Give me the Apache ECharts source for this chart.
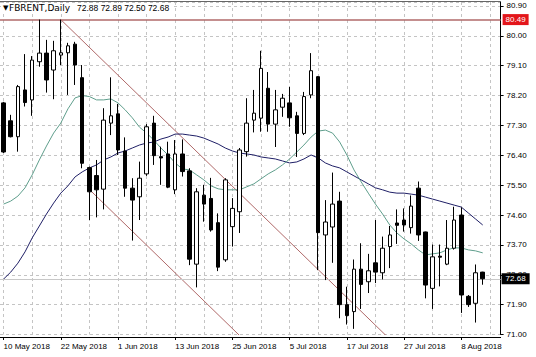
<!DOCTYPE html>
<html>
<head>
<meta charset="utf-8">
<script src="https://cdn.jsdelivr.net/npm/echarts@6/dist/echarts.min.js"></script>
<style>html,body{margin:0;padding:0;background:#fff}#c{width:536px;height:357px}</style>
</head>
<body>
<div id="c"></div>
<script>
const dates = ['10 May 2018','11 May 2018','14 May 2018','15 May 2018','16 May 2018','17 May 2018','18 May 2018','21 May 2018','22 May 2018','23 May 2018','24 May 2018','25 May 2018','28 May 2018','29 May 2018','30 May 2018','31 May 2018',
'1 Jun 2018','4 Jun 2018','5 Jun 2018','6 Jun 2018','7 Jun 2018','8 Jun 2018','11 Jun 2018','12 Jun 2018','13 Jun 2018','14 Jun 2018','15 Jun 2018','18 Jun 2018','19 Jun 2018','20 Jun 2018','21 Jun 2018','22 Jun 2018','25 Jun 2018','26 Jun 2018','27 Jun 2018','28 Jun 2018','29 Jun 2018',
'2 Jul 2018','3 Jul 2018','4 Jul 2018','5 Jul 2018','6 Jul 2018','9 Jul 2018','10 Jul 2018','11 Jul 2018','12 Jul 2018','13 Jul 2018','16 Jul 2018','17 Jul 2018','18 Jul 2018','19 Jul 2018','20 Jul 2018','23 Jul 2018','24 Jul 2018','25 Jul 2018','26 Jul 2018','27 Jul 2018','30 Jul 2018','31 Jul 2018',
'1 Aug 2018','2 Aug 2018','3 Aug 2018','6 Aug 2018','7 Aug 2018','8 Aug 2018','9 Aug 2018','10 Aug 2018','13 Aug 2018'];

const openP = [77.98,77.44,76.96,78.37,78.07,79.22,79.48,78.97,79.42,79.49,79.75,78.74,76.03,75.79,75.38,77.37,
77.65,76.53,75.41,75.15,75.84,77.37,76.36,76.44,75.36,76.44,75.93,73.12,75.20,75.10,74.37,73.25,74.25,74.70,76.51,77.46,77.52,
78.42,77.34,77.85,77.98,77.59,77.06,78.22,78.77,74.00,74.24,75.02,71.90,71.69,72.97,72.59,73.16,72.86,73.65,74.36,74.45,74.22,75.41,
74.09,72.39,73.36,73.12,73.60,74.60,72.15,71.94,72.88];
const highP = [78.01,77.62,78.52,79.45,79.39,80.49,79.88,79.85,80.49,79.79,79.82,79.12,76.06,76.26,77.82,78.75,
77.95,76.94,75.71,76.21,77.34,77.59,76.66,76.81,76.86,76.88,76.01,75.41,75.51,75.72,74.65,75.71,75.11,76.62,78.12,78.37,79.55,
78.91,78.37,78.25,78.46,77.71,78.31,79.48,78.79,75.05,75.88,75.30,72.44,73.26,73.75,73.43,74.45,73.95,74.27,74.77,74.80,75.19,75.61,
74.10,73.71,73.71,74.45,74.85,74.83,72.19,73.11,72.89];
const lowP = [76.47,76.94,76.51,77.87,77.59,79.07,78.29,78.09,79.12,78.22,78.52,76.01,74.45,74.53,74.77,77.01,
76.41,75.15,73.83,74.45,75.78,76.11,75.51,75.41,75.23,75.76,73.09,72.42,74.40,74.10,72.91,73.19,73.65,74.06,76.36,77.09,77.11,
77.11,76.65,77.56,77.26,76.35,77.01,78.12,72.94,72.64,73.16,71.49,71.30,71.17,71.77,72.25,72.55,72.66,73.00,73.73,74.10,74.04,73.82,
72.09,71.77,72.45,73.09,73.56,71.65,71.83,71.36,72.50];
const closeP = [76.50,76.96,78.47,77.99,79.27,79.48,78.67,79.55,79.49,79.70,79.12,76.16,75.30,75.36,77.46,77.59,
76.56,75.41,75.05,75.71,77.26,76.39,76.32,75.44,76.44,75.91,73.27,75.30,74.93,74.15,73.03,75.66,74.80,76.56,77.37,77.67,79.02,
77.34,77.77,78.12,77.53,77.06,78.17,78.95,74.07,74.39,74.93,71.90,71.57,72.97,72.51,72.92,72.88,73.60,74.00,74.29,74.30,74.87,74.00,
72.49,73.34,73.33,73.60,74.45,72.19,71.90,72.86,72.68];

const maFast = [74.93,75.02,75.17,75.42,75.81,76.26,76.68,77.07,77.37,77.80,78.13,78.20,78.17,78.07,78.07,78.10,
77.98,77.77,77.53,77.25,77.07,76.86,76.62,76.41,76.17,75.99,75.96,75.81,75.66,75.48,75.39,75.36,75.36,75.36,75.45,75.54,75.69,
75.84,75.96,76.11,76.29,76.50,76.71,76.95,77.13,77.16,77.07,76.80,76.41,75.96,75.60,75.26,74.93,74.63,74.30,74.06,73.88,73.73,73.55,
73.40,73.43,73.46,73.55,73.61,73.61,73.55,73.52,73.46];
const maSlow = [72.67,72.88,73.15,73.49,73.91,74.27,74.63,74.96,75.26,75.48,75.75,75.90,76.02,76.11,76.26,76.35,
76.47,76.53,76.62,76.71,76.77,76.80,76.89,76.95,77.04,77.04,77.01,76.98,76.92,76.83,76.74,76.62,76.53,76.47,76.44,76.41,76.35,
76.32,76.29,76.23,76.17,76.20,76.29,76.41,76.32,76.17,76.08,76.02,75.90,75.78,75.66,75.54,75.42,75.36,75.29,75.26,75.26,75.23,75.20,
75.14,75.08,75.02,74.96,74.90,74.84,74.66,74.48,74.30];

const upperChannel = [[8, 80.49], [54, 70.86]];
const lowerChannel = [[12, 75.37], [34, 70.76]];
const highLevel = 80.49;
const bidLevel = 72.68;
const priceTicks = {min: 71.00, step: 0.90};

const chart = echarts.init(document.getElementById('c'), null, {renderer: 'svg'});
const axisCats = dates.concat(['', '']);
const candles = dates.map((d, i) => [openP[i], closeP[i], lowP[i], highP[i]]);
const FONT = 'Liberation Sans';
const last = dates.length - 1;
const BROWN = '#b06a6a';

chart.setOption({
  animation: false,
  backgroundColor: '#fff',
  textStyle: {fontFamily: FONT},
  grid: {left: -0.6, right: 35.4, top: 2, bottom: 22.5, containLabel: false},
  xAxis: {
    type: 'category', data: axisCats, boundaryGap: true, offset: 2.5,
    axisLine: {lineStyle: {color: '#000', width: 1}},
    axisTick: {show: true, interval: 7, alignWithLabel: true, length: 3, lineStyle: {color: '#000'}},
    axisLabel: {interval: 7, align: 'left', fontSize: 8, color: '#000', margin: 5, fontFamily: FONT},
    splitLine: {show: true, interval: 3, alignWithLabel: true, lineStyle: {color: '#c4c4c4', type: [3, 3], width: 1}}
  },
  yAxis: {
    type: 'value', position: 'right', min: priceTicks.min, max: 81.02, interval: priceTicks.step, scale: true,
    axisLine: {show: true, lineStyle: {color: '#000', width: 1}},
    axisTick: {show: true, length: 3, lineStyle: {color: '#000'}},
    axisLabel: {fontSize: 8, color: '#000', margin: 6, showMaxLabel: false, fontFamily: FONT,
      formatter: v => v.toFixed(2)},
    splitLine: {show: true, lineStyle: {color: '#c4c4c4', type: [3, 3], width: 1}}
  },
  series: [
    {
      type: 'candlestick', data: candles, barWidth: 4,
      itemStyle: {color: '#fff', color0: '#000', borderColor: '#000', borderColor0: '#000', borderWidth: 1},
      z: 5
    },
    {type: 'line', data: maSlow, symbol: 'none', lineStyle: {color: '#1f1f66', width: 1}, z: 4},
    {type: 'line', data: maFast, symbol: 'none', lineStyle: {color: '#5f9e8c', width: 1}, z: 4},
    {type: 'line', data: upperChannel, symbol: 'none', lineStyle: {color: BROWN, width: 1}, z: 3, clip: true},
    {type: 'line', data: lowerChannel, symbol: 'none', lineStyle: {color: BROWN, width: 1}, z: 3, clip: true},
    {
      type: 'line', data: [], z: 2,
      markLine: {
        silent: true, symbol: ['none', 'none'], animation: false,
        lineStyle: {color: BROWN, width: 1.5, type: 'solid'},
        label: {show: true, position: 'end', fontSize: 8, fontFamily: FONT, color: '#fff'},
        data: [
          {yAxis: highLevel, lineStyle: {color: BROWN, width: 1.5, type: 'solid'},
           label: {formatter: highLevel.toFixed(2), distance: 2, color: '#fff',
             backgroundColor: '#e3161b', padding: [2, 3, 1, 3]}}
        ]
      }
    },
    {
      type: 'line', data: [], z: 1,
      markLine: {
        silent: true, symbol: ['none', 'none'], animation: false,
        lineStyle: {color: '#c8c8c8', width: 1, type: 'solid'},
        label: {show: true, position: 'end', fontSize: 8, fontFamily: FONT, color: '#fff'},
        data: [
          {yAxis: bidLevel,
           label: {formatter: bidLevel.toFixed(2), distance: 1, color: '#fff',
             backgroundColor: '#000', padding: [2, 4, 1, 4]}}
        ]
      }
    }
  ],
  graphic: [
    {type: 'line', shape: {x1: 0, y1: 1.5, x2: 501, y2: 1.5}, style: {stroke: '#666', lineWidth: 1}, z: 10},
    {type: 'rect', shape: {x: 1, y: 3, width: 170, height: 11}, style: {fill: '#fff'}, z: 9},
    {type: 'text', x: 3, y: 4, style: {text: '▼', font: '7px "DejaVu Sans"', fill: '#000'}, z: 10},
    {type: 'text', x: 9, y: 3.5, style: {text: 'FBRENT,Daily', font: '9px "DejaVu Sans"', fill: '#000'}, z: 10},
    {type: 'text', x: 77, y: 3.5, style: {text: [openP[last], highP[last], lowP[last], closeP[last]].map(v => v.toFixed(2)).join(' '),
      font: '8.5px "' + FONT + '"', fill: '#000'}, z: 10}
  ]
});
</script>
</body>
</html>
